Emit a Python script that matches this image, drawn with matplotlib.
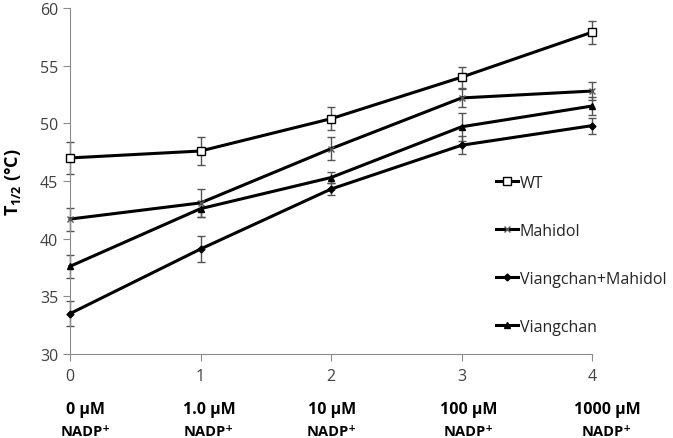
import matplotlib
matplotlib.use("Agg")
import matplotlib.pyplot as plt

# values
x_vals = [0, 1, 2, 3, 4]
wt = [47.0, 47.6, 50.4, 54.0, 57.9]
wt_err = [1.4, 1.25, 1.0, 0.9, 1.0]
mahidol = [41.7, 43.1, 47.8, 52.2, 52.8]
mahidol_err = [1.0, 1.2, 1.0, 0.75, 0.8]
vm = [33.5, 39.1, 44.3, 48.1, 49.8]
vm_err = [1.1, 1.15, 0.5, 0.8, 0.7]
viangchan = [37.6, 42.6, 45.3, 49.7, 51.5]
viangchan_err = [1.0, 0.7, 0.5, 1.2, 0.8]

series_names = ["WT", "Mahidol", "Viangchan+Mahidol", "Viangchan"]
conc_labels = ["0 \u00b5M", "1.0 \u00b5M", "10 \u00b5M", "100 \u00b5M", "1000 \u00b5M"]

plt.rcParams["font.family"] = ["Open Sans", "DejaVu Sans"]
plt.rcParams["mathtext.fontset"] = "custom"
plt.rcParams["mathtext.rm"] = "Open Sans"
plt.rcParams["mathtext.bf"] = "Open Sans:bold"

W, H = 673, 439
fig = plt.figure(figsize=(W / 100, H / 100), dpi=100)
ax = fig.add_axes([70 / W, 1 - 355 / H, (592 - 70) / W, (355 - 9) / H])

styles = [
    dict(marker="s", ms=6, mfc="white", mec="black", mew=1.0),
    dict(marker="x", ms=5, mec="#555555", mew=1.0),
    dict(marker="D", ms=3.5, mfc="black", mec="black"),
    dict(marker="^", ms=5, mfc="black", mec="black"),
]
data = [(wt, wt_err), (mahidol, mahidol_err), (vm, vm_err), (viangchan, viangchan_err)]

handles = []
for (vals, errs), st, name in zip(data, styles, series_names):
    ax.errorbar(x_vals, vals, yerr=errs, fmt="none", ecolor="#555555",
                elinewidth=1.0, capsize=3, capthick=1.0, clip_on=False, zorder=2)
    line, = ax.plot(x_vals, vals, color="black", lw=2.2, clip_on=False,
                    zorder=3, label=name, **st)
    handles.append(line)

ax.set_xlim(0, 4)
ax.set_ylim(30, 60)
ax.set_xticks(x_vals)
ax.set_yticks(range(30, 61, 5))
for s in ["top", "right"]:
    ax.spines[s].set_visible(False)
for s in ["left", "bottom"]:
    ax.spines[s].set_color("#8c8c8c")
ax.tick_params(direction="out", length=5, color="#8c8c8c", labelcolor="#404040",
               labelsize=11.5)
ax.tick_params(axis="x", pad=5)

ax.set_ylabel(r"$\mathbf{T_{1/2}}$ (°C)", fontsize=13, fontweight="bold",
              labelpad=12)

# concentration captions under the ticks
label_x = [86, 209, 332, 469, 607]
for lx, lab in zip(label_x, conc_labels):
    fig.text(lx / W, 1 - 410 / H, lab, ha="center", va="center",
             fontsize=11.5, fontweight="bold")
    fig.text(lx / W, 1 - 432 / H, "NADP\u207a", ha="center", va="center",
             fontsize=10.5, fontweight="bold")

leg = fig.legend(handles=handles, loc="upper left",
                 bbox_to_anchor=(488 / W, 1 - 168 / H), frameon=False,
                 fontsize=11.5, handlelength=1.4, handletextpad=0.1,
                 labelspacing=2.0, borderpad=0)
for t in leg.get_texts():
    t.set_color("#262626")

fig.savefig("out.png", dpi=100)
